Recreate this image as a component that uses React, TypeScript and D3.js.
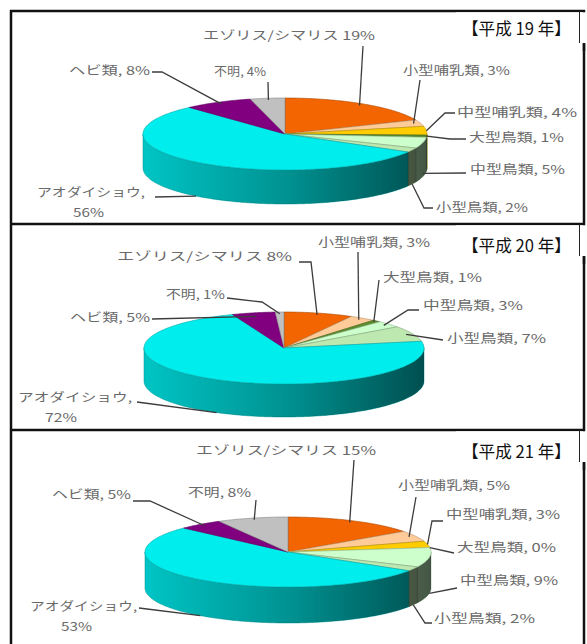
import React from 'react';
import * as d3 from 'd3';

// ---- data ----
const categories = ['エゾリス/シマリス', '小型哺乳類', '中型哺乳類', '大型鳥類', '中型鳥類', '小型鳥類', 'アオダイショウ', 'ヘビ類', '不明'];
const yearTitles = ['【平成 19 年】', '【平成 20 年】', '【平成 21 年】'];
const valuesH19 = [19, 3, 4, 1, 5, 2, 56, 8, 4];
const valuesH20 = [8, 3, null, 1, 3, 7, 72, 5, 1];
const valuesH21 = [15, 5, 3, 0, 9, 2, 53, 5, 8];
const seriesValues = [valuesH19, valuesH20, valuesH21];
const sliceColors = ['#F26500', '#FFCC99', '#FFCC00', '#5E8F2A', '#CCFFCC', '#BDE8B0', '#00EDED', '#800080', '#C0C0C0'];

// ---- layout ----
const W = 587, H = 644;
const panelTops = [11, 224, 430];
const pieGeom = [
  { cx: 285, cy: 134, rx: 142, ry: 36, depth: 34 },
  { cx: 284, cy: 348, rx: 140, ry: 36, depth: 33 },
  { cx: 288, cy: 552, rx: 143, ry: 35, depth: 36 },
];
const titleLayout = [{ x: 462, cy: 29, w: 109 }, { x: 462, cy: 246, w: 109 }, { x: 462, cy: 452, w: 109 }];

type LabelPos = { x: number; cy: number; w: number; pts: number[][]; r: number; dy: number; x2?: number; w2?: number };
const labelsH19: (LabelPos | null)[] = [
  { x: 203, cy: 35, w: 172, pts: [[363, 46]], r: 0.95, dy: 0 },
  { x: 403, cy: 70, w: 107, pts: [[420, 80]], r: 0.95, dy: 0 },
  { x: 457, cy: 112, w: 120, pts: [[455, 113], [445, 113]], r: 1, dy: 0 },
  { x: 469, cy: 137, w: 95, pts: [[466, 139], [450, 139]], r: 1, dy: 0 },
  { x: 470, cy: 169, w: 95, pts: [[466, 173]], r: 1, dy: 0.9 },
  { x: 436, cy: 207, w: 92, pts: [[433, 208], [424, 208]], r: 1, dy: 1 },
  { x: 37, cy: 192, w: 108, x2: 73, w2: 31, pts: [[155, 197]], r: 1, dy: 1 },
  { x: 69, cy: 70, w: 81, pts: [[152, 72], [162, 72]], r: 0.95, dy: 0 },
  { x: 214, cy: 71, w: 52, pts: [[268, 82]], r: 0.95, dy: 0 },
];
const labelsH20: (LabelPos | null)[] = [
  { x: 117, cy: 256, w: 175, pts: [[299, 262], [311, 262]], r: 0.95, dy: 0 },
  { x: 318, cy: 242, w: 112, pts: [[358, 252]], r: 0.95, dy: 0 },
  null,
  { x: 383, cy: 277, w: 99, pts: [[379, 280]], r: 0.97, dy: 0 },
  { x: 423, cy: 305, w: 100, pts: [[419, 310], [408, 310]], r: 0.95, dy: 0 },
  { x: 447, cy: 338, w: 99, pts: [[443, 340]], r: 0.95, dy: 0 },
  { x: 18, cy: 397, w: 114, x2: 45, w2: 32, pts: [[137, 402]], r: 1, dy: 1 },
  { x: 70, cy: 317, w: 80, pts: [[152, 319]], r: 0.9, dy: 0 },
  { x: 166, cy: 294, w: 59, pts: [[227, 298], [262, 302]], r: 0.95, dy: 0 },
];
const labelsH21: (LabelPos | null)[] = [
  { x: 196, cy: 450, w: 180, pts: [[354, 460]], r: 0.95, dy: 0 },
  { x: 398, cy: 485, w: 112, pts: [[416, 497]], r: 0.95, dy: 0 },
  { x: 446, cy: 514, w: 114, pts: [[443, 521], [432, 521]], r: 1, dy: 0 },
  { x: 457, cy: 547, w: 99, pts: [[454, 553]], r: 1, dy: 0 },
  { x: 460, cy: 580, w: 98, pts: [[457, 588]], r: 1, dy: 1 },
  { x: 434, cy: 618, w: 101, pts: [[432, 623], [425, 623]], r: 1, dy: 1 },
  { x: 30, cy: 606, w: 107, x2: 61, w2: 31, pts: [[139, 608]], r: 1, dy: 1 },
  { x: 52, cy: 494, w: 79, pts: [[133, 501], [150, 501]], r: 0.95, dy: 0 },
  { x: 188, cy: 492, w: 63, pts: [[256, 500]], r: 0.95, dy: 0 },
];
const labelLayouts = [labelsH19, labelsH20, labelsH21];

const FONT = '"Noto Sans CJK JP", "Noto Sans", sans-serif';
const line = d3.line();

type G = { cx: number; cy: number; rx: number; ry: number; depth: number };
function pt(g: G, a: number, r = 1, dy = 0): [number, number] {
  return [g.cx + g.rx * r * Math.sin(a), g.cy - g.ry * r * Math.cos(a) + dy];
}
function arcPts(g: G, a0: number, a1: number, dy = 0): [number, number][] {
  const n = Math.max(2, Math.ceil((a1 - a0) / 0.015));
  return d3.range(n + 1).map((i) => pt(g, a0 + ((a1 - a0) * i) / n, 1, dy));
}

function Pie3D({ idx }: { idx: number }) {
  const g = pieGeom[idx];
  const vals = seriesValues[idx];
  const items = categories
    .map((c, i) => ({ c, i, v: vals[i] }))
    .filter((d) => d.v !== null) as { c: string; i: number; v: number }[];
  const arcs = d3.pie<{ c: string; i: number; v: number }>().sort(null).value((d) => d.v)(items);
  const lo = Math.PI / 2, hi = (3 * Math.PI) / 2;
  const gradId = `sideShade${idx}`;
  const band = (line(arcPts(g, lo, hi, 0).concat(arcPts(g, lo, hi, g.depth).reverse())) || '') + 'Z';
  const layout = labelLayouts[idx];
  return (
    <g>
      <defs>
        <linearGradient id={gradId} gradientUnits="userSpaceOnUse" x1={g.cx - g.rx} x2={g.cx + g.rx} y1={0} y2={0}>
          <stop offset="0" stopColor="#000" stopOpacity={0.06} />
          <stop offset="0.5" stopColor="#000" stopOpacity={0.3} />
          <stop offset="1" stopColor="#000" stopOpacity={0.62} />
        </linearGradient>
      </defs>
      {arcs.map((a) => {
        const s = Math.max(a.startAngle, lo), e = Math.min(a.endAngle, hi);
        if (e <= s) return null;
        const d = (line(arcPts(g, s, e, 0).concat(arcPts(g, s, e, g.depth).reverse())) || '') + 'Z';
        const col = sliceColors[a.data.i];
        return <path key={'s' + a.data.i} d={d} fill={d3.color(col)!.darker(0.35).toString()} stroke={d3.color(col)!.darker(1.2).toString()} strokeWidth={0.5} />;
      })}
      <path d={band} fill={`url(#${gradId})`} />
      {arcs.map((a) => {
        if (a.endAngle - a.startAngle <= 0) return null;
        const pts: [number, number][] = [[g.cx, g.cy], ...arcPts(g, a.startAngle, a.endAngle, 0)];
        const col = sliceColors[a.data.i];
        return <path key={'t' + a.data.i} d={(line(pts) || '') + 'Z'} fill={col} stroke={d3.color(col)!.darker(1).toString()} strokeWidth={0.6} strokeLinejoin="round" />;
      })}
      {arcs.map((a) => {
        const L = layout[a.data.i];
        if (!L) return null;
        const mid = (a.startAngle + a.endAngle) / 2;
        const end = pt(g, mid, L.r, L.dy * g.depth);
        const lp = [...L.pts, end] as [number, number][];
        const cat = a.data.c;
        const v = a.data.v;
        const two = L.x2 !== undefined;
        const sep = a.data.i === 0 ? ' ' : ', ';
        return (
          <g key={'l' + a.data.i}>
            <path d={line(lp) || ''} fill="none" stroke="#3c3c3c" strokeWidth={1.3} />
            {two ? (
              <>
                <text x={L.x} y={L.cy + 4.5} textLength={L.w} lengthAdjust="spacingAndGlyphs" fontSize={12} fontFamily={FONT} fill="#6a6a6a">{cat + ','}</text>
                <text x={L.x2} y={L.cy + 24.5} textLength={L.w2} lengthAdjust="spacingAndGlyphs" fontSize={12} fontFamily={FONT} fill="#6a6a6a">{v + '%'}</text>
              </>
            ) : (
              <text x={L.x} y={L.cy + 4.5} textLength={L.w} lengthAdjust="spacingAndGlyphs" fontSize={12} fontFamily={FONT} fill="#6a6a6a">{cat + sep + v + '%'}</text>
            )}
          </g>
        );
      })}
    </g>
  );
}

export default function App() {
  const frameL = 11, frameR = 584;
  return (
    <svg width={W} height={H} viewBox={`0 0 ${W} ${H}`} style={{ position: 'absolute', left: 0, top: 0, background: '#fff' }}>
      <rect x={0} y={0} width={W} height={H} fill="#fff" />
      {panelTops.map((t, i) => (
        <g key={'p' + i}>
          <Pie3D idx={i} />
        </g>
      ))}
      {/* frame */}
      <line x1={frameL} x2={frameL} y1={10} y2={H} stroke="#111" strokeWidth={2.5} />
      <line x1={frameR} x2={frameR} y1={10} y2={H} stroke="#111" strokeWidth={2.5} />
      {panelTops.map((t, i) => (
        <line key={'h' + i} x1={frameL - 1} x2={frameR + 1} y1={t} y2={t} stroke="#111" strokeWidth={2.5} />
      ))}
      {panelTops.map((t, i) => (
        <g key={'t' + i}>
          <rect x={456} y={t + 1.3} width={131} height={31} fill="#fff" />
          <line x1={579.5} x2={579.5} y1={t} y2={t + 32} stroke="#222" strokeWidth={1} />
          <line x1={frameR} x2={frameR} y1={t + 32} y2={t + 40} stroke="#111" strokeWidth={2.5} />
          <text x={titleLayout[i].x} y={titleLayout[i].cy + 6} textLength={titleLayout[i].w} lengthAdjust="spacingAndGlyphs" fontSize={17} fontFamily={FONT} fill="#111">{yearTitles[i]}</text>
        </g>
      ))}
    </svg>
  );
}
